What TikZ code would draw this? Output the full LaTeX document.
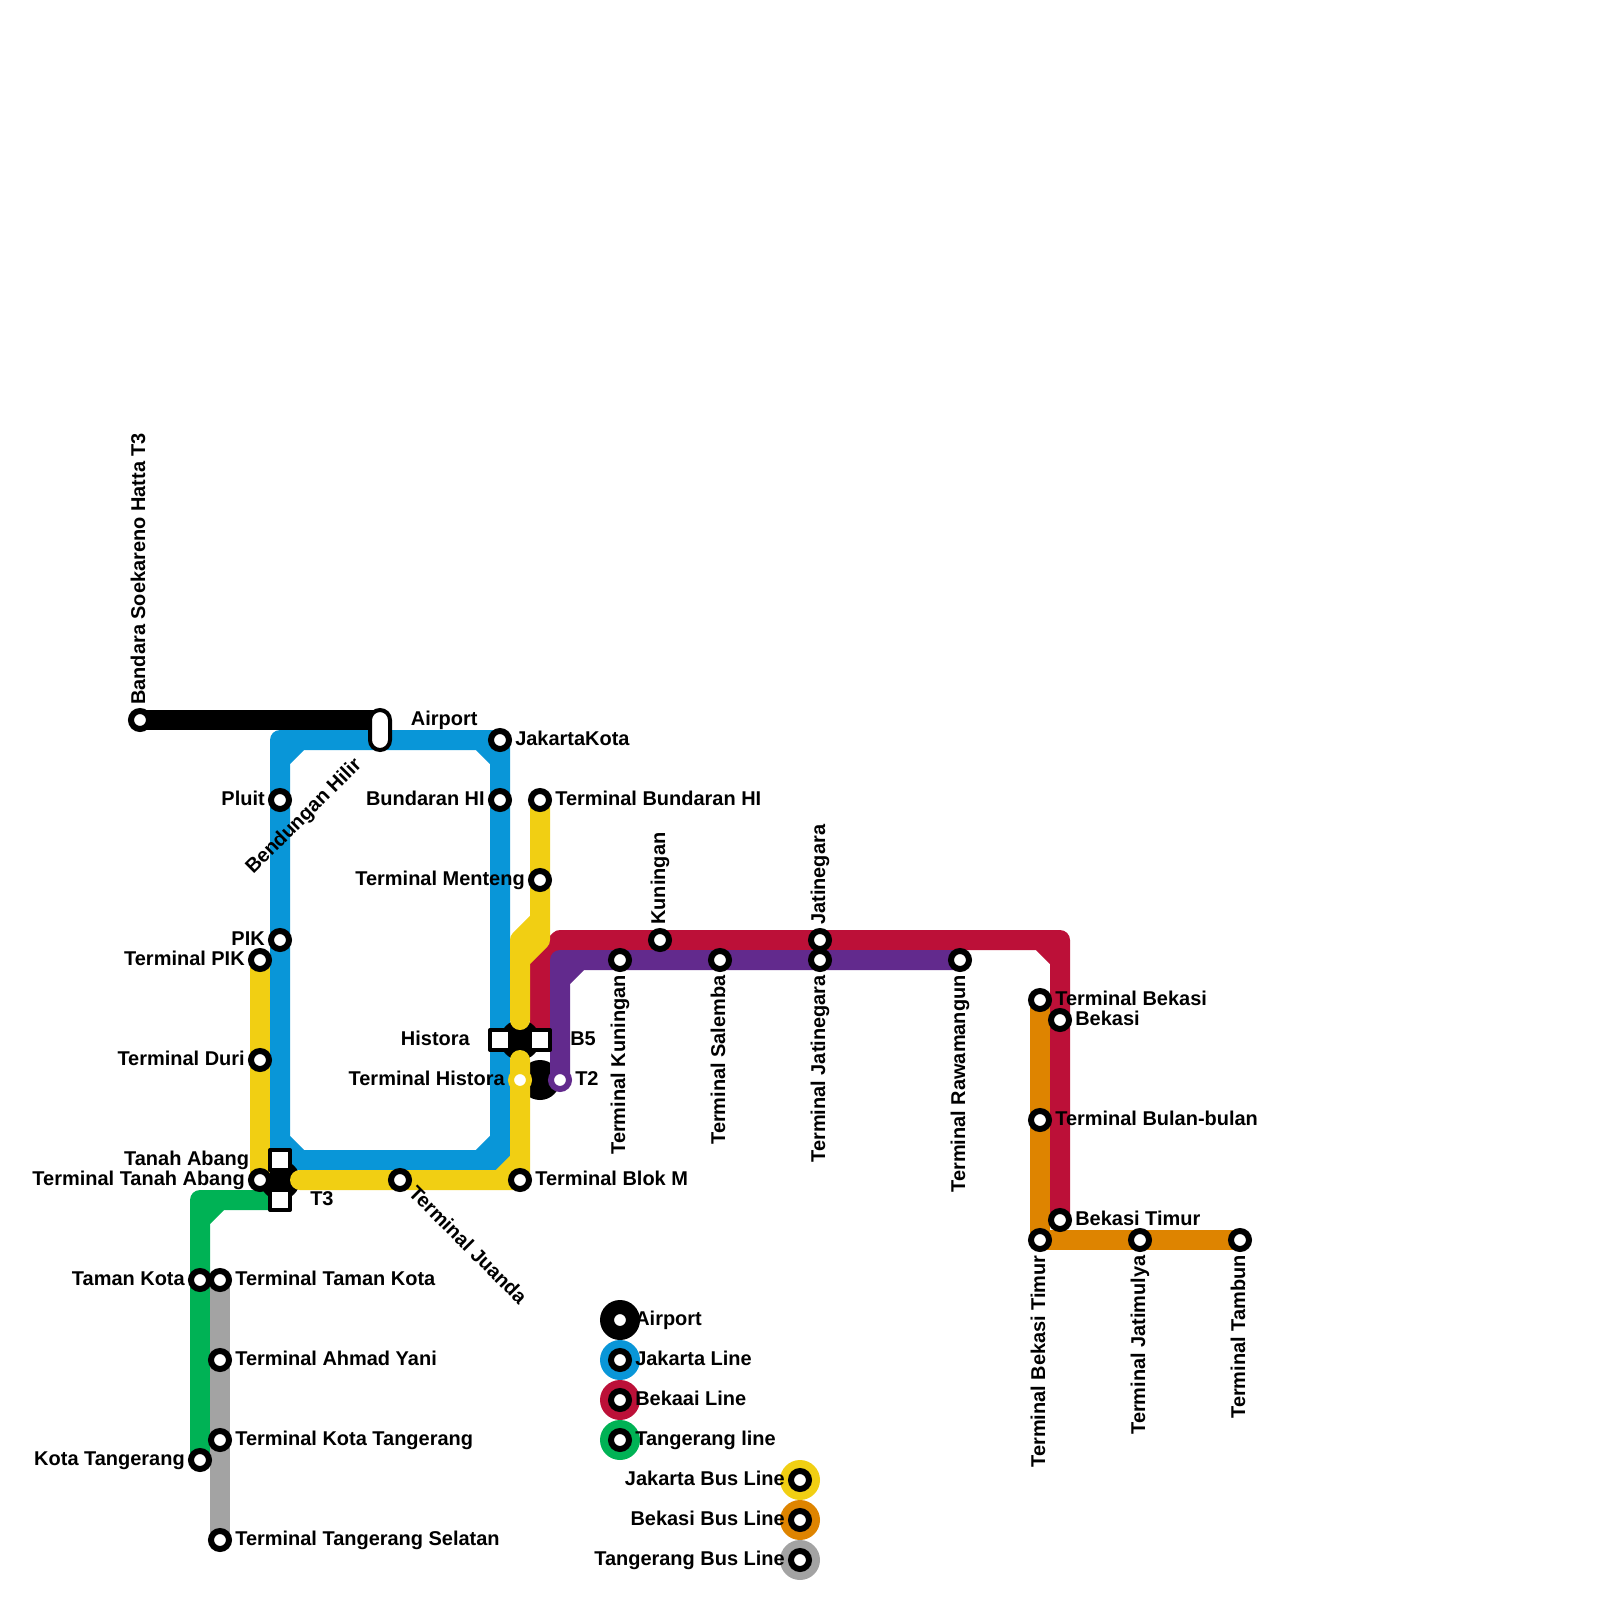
\documentclass[tikz,border=0pt]{standalone}
\usepackage{fontspec}
\setmainfont{Liberation Sans}
\usetikzlibrary{backgrounds}
\definecolor{lnblue}{HTML}{0996D8}
\definecolor{lnred}{HTML}{BC1038}
\definecolor{lngreen}{HTML}{00B255}
\definecolor{lnyellow}{HTML}{F1CF13}
\definecolor{lnorange}{HTML}{DE8400}
\definecolor{lngrey}{HTML}{A3A3A3}
\definecolor{lnpurple}{HTML}{622A8D}
\tikzset{
  st/.style={circle,draw=black,fill=white,line width=1.5mm,inner sep=0pt,minimum size=4.5mm},
  sq/.style={rectangle,draw=black,fill=white,line width=1mm,line join=round,inner sep=0pt,minimum size=5mm},
  pill/.style={rectangle,draw=black,fill=white,line width=1mm,rounded corners=2.5mm,inner sep=0pt,
               minimum width=5mm,minimum height=10mm},
  ln/.style={line width=5mm,line cap=round,line join=round},
  hub/.style={circle,fill=black,inner sep=0pt,minimum size=10mm},
  kd/.style={circle,inner sep=0pt,minimum size=10mm},
  lb/.style={font=\fontsize{14.2}{17}\selectfont\bfseries,inner xsep=.75mm,inner ysep=0pt,
             text height=3.6mm,text depth=1.05mm},
  lbr/.style={lb,anchor=west},
  lbl/.style={lb,anchor=east},
  lbu/.style={lb,rotate=90,anchor=west},
  lbd/.style={lb,rotate=90,anchor=east},
}
\begin{document}
\begin{tikzpicture}[x=5mm,y=-5mm]
  \useasboundingbox (0,0) rectangle (80,80);
  % airport
  \node[st] (bandara) at (7,36) {};
  \node[pill] (airport) at (19,36.5) {};
  % jakarta
  \node[st] (jakkota) at (25,37) {};
  \node[st] (bundaran) at (25,40) {};
  \node[st] (pluit) at (14,40) {};
  \node[st] (pik) at (14,47) {};
  \node[sq] (tanah) at (14,58) {};
  \node[sq] (tanahb) at (14,60) {};
  \node[sq] (histora) at (25,52) {};
  \node[sq] (bfive) at (27,52) {};
  % bekasi
  \node[st] (kuningan) at (33,47) {};
  \node[st] (jatinegara) at (41,47) {};
  \node[st] (bekasi) at (53,51) {};
  \node[st] (bekasitimur) at (53,61) {};
  \node[st,draw=lnpurple] (ttwo) at (28,54) {};
  \node[st] (tkuningan) at (31,48) {};
  \node[st] (tsalemba) at (36,48) {};
  \node[st] (tjatinegara) at (41,48) {};
  \node[st] (trawamangun) at (48,48) {};
  % tangerang
  \node[st] (tamankota) at (10,64) {};
  \node[st] (kotatangerang) at (10,73) {};
  % bus
  \node[st] (tbundaran) at (27,40) {};
  \node[st] (tmenteng) at (27,44) {};
  \node[st,draw=lnyellow] (thistora) at (26,54) {};
  \node[st] (tblokm) at (26,59) {};
  \node[st] (tjuanda) at (20,59) {};
  \node[st] (tpik) at (13,48) {};
  \node[st] (tduri) at (13,53) {};
  \node[st] (ttanah) at (13,59) {};
  \node[st] (tbekasi) at (52,50) {};
  \node[st] (tbulan) at (52,56) {};
  \node[st] (tbekasitimur) at (52,62) {};
  \node[st] (tjatimulya) at (57,62) {};
  \node[st] (ttambun) at (62,62) {};
  \node[st] (ttaman) at (11,64) {};
  \node[st] (tyani) at (11,68) {};
  \node[st] (tkota) at (11,72) {};
  \node[st] (tselatan) at (11,77) {};
  \coordinate (yellowa) at (26,51);
  \coordinate (yellowb) at (26,53);
  \coordinate (yellowc) at (15,59);
  % legend
  \node[st] (keyair) at (31,66) {};
  \node[st] (keyjak) at (31,68) {};
  \node[st] (keybek) at (31,70) {};
  \node[st] (keytan) at (31,72) {};
  \node[st] (keyjakbus) at (40,74) {};
  \node[st] (keybekbus) at (40,76) {};
  \node[st] (keytanbus) at (40,78) {};
  \begin{scope}[on background layer]
  \draw[ln,black] (bandara.center) -- (19,36) -- (airport.center);
  \draw[ln,lnblue] (tanah.center) -- (pluit.center) -- (14,37) -- (jakkota.center) -- (bundaran.center)
    -- (25,58) -- cycle (14,38) -- (15,37) (24,37) -- (25,38) (25,57) -- (24,58) (15,58) -- (14,57);
  \draw[ln,lnred] (bfive.center) -- (27,48) -- (28,47) -- (kuningan.center) -- (jatinegara.center)
    -- (53,47) -- (bekasi.center) -- (bekasitimur.center) (52,47) -- (53,48);
  \draw[ln,lnpurple] (ttwo.center) -- (28,48) -- (tkuningan.center) -- (tsalemba.center)
    -- (tjatinegara.center) -- (trawamangun.center) (28,49) -- (29,48);
  \draw[ln,lngreen] (tanahb.center) -- (10,60) -- (tamankota.center) -- (kotatangerang.center)
    (11,60) -- (10,61);
  \draw[ln,lngrey] (ttaman.center) -- (tyani.center) -- (tkota.center) -- (tselatan.center);
  \draw[ln,lnorange] (tbekasi.center) -- (tbulan.center) -- (tbekasitimur.center) -- (tjatimulya.center)
    -- (ttambun.center);
  \node[hub] (hubhistora) at (26,52) {};
  \node[hub] (hubttwo) at (27,54) {};
  \node[hub] (hubtthree) at (14,59) {};
  \draw[ln,lnyellow] (tbundaran.center) -- (tmenteng.center) -- (27,47) -- (26,48) -- (yellowa)
    (27,46) -- (26,47) -- (26,48);
  \draw[ln,lnyellow] (yellowb) -- (thistora.center) -- (tblokm.center) -- (tjuanda.center) -- (yellowc)
    (25,59) -- (26,58);
  \draw[ln,lnyellow] (tpik.center) -- (tduri.center) -- (ttanah.center);
  \draw[ln,lnpurple] (ttwo.center) -- (28,53);
  \node[kd,fill=black] (diskair) at (keyair) {};
  \node[kd,fill=lnblue] (diskjak) at (keyjak) {};
  \node[kd,fill=lnred] (diskbek) at (keybek) {};
  \node[kd,fill=lngreen] (disktan) at (keytan) {};
  \node[kd,fill=lnyellow] (diskjakbus) at (keyjakbus) {};
  \node[kd,fill=lnorange] (diskbekbus) at (keybekbus) {};
  \node[kd,fill=lngrey] (disktanbus) at (keytanbus) {};
  \end{scope}
  % labels
  \node[lbu] (lbandara) at (bandara.north) {Bandara Soekareno Hatta T3};
  \node[lbr] (lairport) at (20.38,36) {Airport};
  \node[lb,rotate=45,anchor=east] (lhilir) at (18.05,38) {Bendungan Hilir};
  \node[lbr] (ljakkota) at (jakkota.east) {JakartaKota};
  \node[lbl] (lbundaran) at (bundaran.west) {Bundaran HI};
  \node[lbl] (lpluit) at (pluit.west) {Pluit};
  \node[lbl] (lpik) at (pik.west) {PIK};
  \node[lbl] (ltanah) at (12.62,58) {Tanah Abang};
  \node[lbr] (ltthree) at (15.35,60) {T3};
  \node[lbl] (lhistora) at (23.65,52) {Histora};
  \node[lbr] (lbfive) at (28.35,52) {B5};
  \node[lbu] (lkuningan) at (kuningan.north) {Kuningan};
  \node[lbu] (ljatinegara) at (jatinegara.north) {Jatinegara};
  \node[lbr] (lbekasi) at (bekasi.east) {Bekasi};
  \node[lbr] (lbekasitimur) at (bekasitimur.east) {Bekasi Timur};
  \node[lbr] (lttwo) at (ttwo.east) {T2};
  \node[lbd] (ltkuningan) at (tkuningan.south) {Terminal Kuningan};
  \node[lbd] (ltsalemba) at (tsalemba.south) {Terminal Salemba};
  \node[lbd] (ltjatinegara) at (tjatinegara.south) {Terminal Jatinegara};
  \node[lbd] (ltrawamangun) at (trawamangun.south) {Terminal Rawamangun};
  \node[lbl] (ltamankota) at (tamankota.west) {Taman Kota};
  \node[lbl] (lkotatangerang) at (kotatangerang.west) {Kota Tangerang};
  \node[lbr] (ltbundaran) at (tbundaran.east) {Terminal Bundaran HI};
  \node[lbl] (ltmenteng) at (tmenteng.west) {Terminal Menteng};
  \node[lbl] (lthistora) at (thistora.west) {Terminal Histora};
  \node[lbr] (ltblokm) at (tblokm.east) {Terminal Blok M};
  \node[lb,rotate=-45,anchor=west] (ltjuanda) at (20.45,59.42) {Terminal Juanda};
  \node[lbl] (ltpik) at (tpik.west) {Terminal PIK};
  \node[lbl] (ltduri) at (tduri.west) {Terminal Duri};
  \node[lbl] (lttanah) at (ttanah.west) {Terminal Tanah Abang};
  \node[lbr] (ltbekasi) at (tbekasi.east) {Terminal Bekasi};
  \node[lbr] (ltbulan) at (tbulan.east) {Terminal Bulan-bulan};
  \node[lbd] (ltbekasitimur) at (tbekasitimur.south) {Terminal Bekasi Timur};
  \node[lbd] (ltjatimulya) at (tjatimulya.south) {Terminal Jatimulya};
  \node[lbd] (lttambun) at (ttambun.south) {Terminal Tambun};
  \node[lbr] (lttaman) at (ttaman.east) {Terminal Taman Kota};
  \node[lbr] (ltyani) at (tyani.east) {Terminal Ahmad Yani};
  \node[lbr] (ltkota) at (tkota.east) {Terminal Kota Tangerang};
  \node[lbr] (ltselatan) at (tselatan.east) {Terminal Tangerang Selatan};
  \node[lbr] (lkeyair) at (keyair.east) {Airport};
  \node[lbr] (lkeyjak) at (keyjak.east) {Jakarta Line};
  \node[lbr] (lkeybek) at (keybek.east) {Bekaai Line};
  \node[lbr] (lkeytan) at (keytan.east) {Tangerang line};
  \node[lbl] (lkeyjakbus) at (keyjakbus.west) {Jakarta Bus Line};
  \node[lbl] (lkeybekbus) at (keybekbus.west) {Bekasi Bus Line};
  \node[lbl] (lkeytanbus) at (keytanbus.west) {Tangerang Bus Line};
\end{tikzpicture}
\end{document}
